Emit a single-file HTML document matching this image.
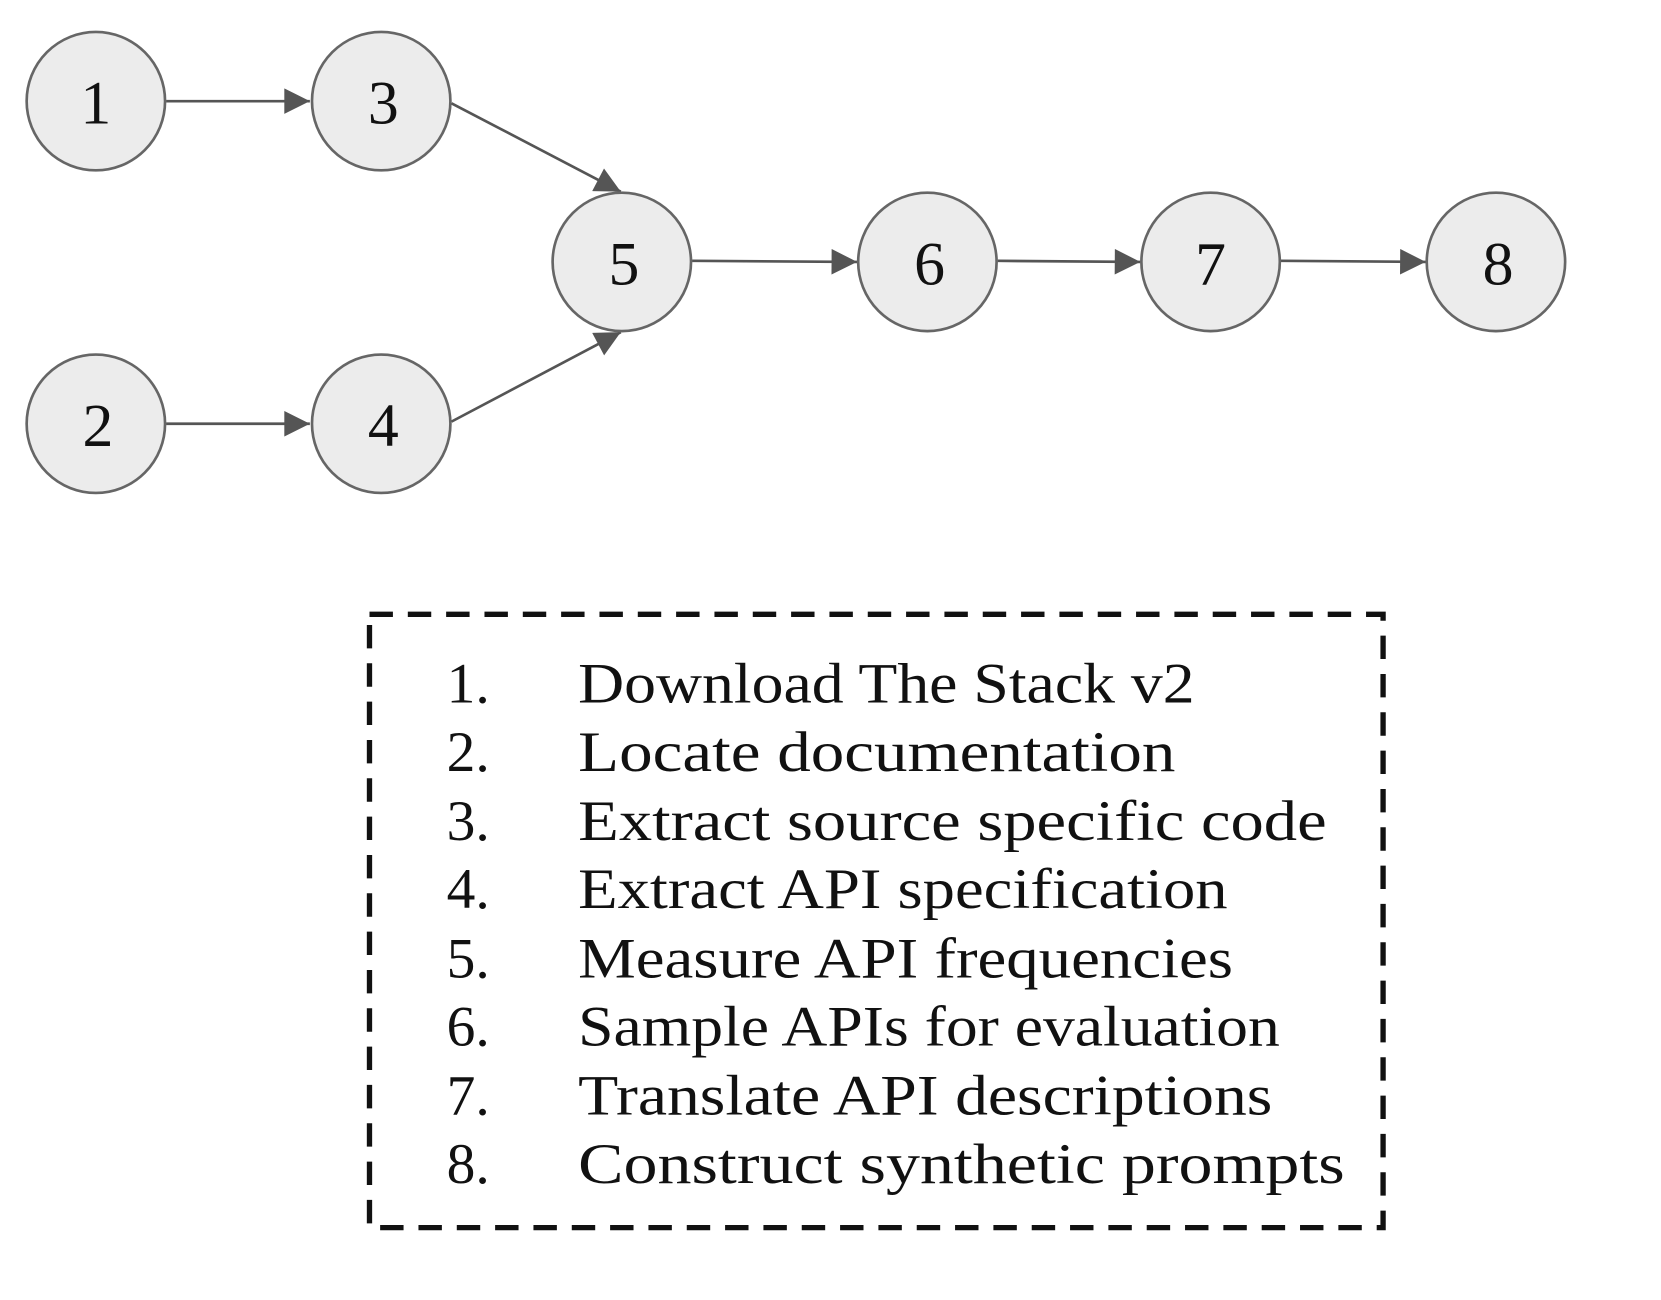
<!DOCTYPE html>
<html><head><meta charset="utf-8"><style>
html,body{margin:0;padding:0;background:#fff;}
svg{display:block;}
text{font-family:"Liberation Serif",serif;fill:#111;}
</style></head><body>
<svg width="1661" height="1300" viewBox="0 0 1560 1221">
<defs>
<marker id="a" viewBox="0 0 10 10" refX="10" refY="5" markerWidth="30" markerHeight="24" markerUnits="userSpaceOnUse" orient="auto"><path d="M0,0 L10,5 L0,10 z" fill="#555"/></marker></defs>
<g stroke="#555" stroke-width="2.5" fill="none">
<line x1="156" y1="95" x2="291" y2="95" marker-end="url(#a)"/>
<line x1="156" y1="398" x2="291" y2="398" marker-end="url(#a)"/>
<line x1="424" y1="97" x2="583" y2="180" marker-end="url(#a)"/>
<line x1="424" y1="396" x2="583" y2="312" marker-end="url(#a)"/>
<line x1="650" y1="245" x2="805" y2="246" marker-end="url(#a)"/>
<line x1="937" y1="245" x2="1071" y2="246" marker-end="url(#a)"/>
<line x1="1203" y1="245" x2="1339" y2="246" marker-end="url(#a)"/>
</g>
<g stroke="#666" stroke-width="2.5" fill="#ececec">
<circle cx="90" cy="95" r="65"/>
<circle cx="358" cy="95" r="65"/>
<circle cx="90" cy="398" r="65"/>
<circle cx="358" cy="398" r="65"/>
<circle cx="584" cy="246" r="65"/>
<circle cx="871" cy="246" r="65"/>
<circle cx="1137" cy="246" r="65"/>
<circle cx="1405" cy="246" r="65"/>
</g>
<g font-size="58" text-anchor="middle">
<text x="90" y="116">1</text>
<text x="360" y="116">3</text>
<text x="92" y="419">2</text>
<text x="360" y="419">4</text>
<text x="586" y="267">5</text>
<text x="873" y="267">6</text>
<text x="1137" y="267">7</text>
<text x="1407" y="267">8</text>
</g>
<rect x="347" y="577" width="952" height="576" fill="none" stroke="#111" stroke-width="5" stroke-dasharray="22,14"/>
<g font-size="54">
<g text-anchor="end">
<text x="460" y="660">1.</text><text x="460" y="724">2.</text><text x="460" y="789">3.</text><text x="460" y="853">4.</text><text x="460" y="918">5.</text><text x="460" y="982">6.</text><text x="460" y="1047">7.</text><text x="460" y="1111">8.</text>
</g>
<text x="543" y="660" textLength="579" lengthAdjust="spacingAndGlyphs">Download The Stack v2</text>
<text x="543" y="724" textLength="561" lengthAdjust="spacingAndGlyphs">Locate documentation</text>
<text x="543" y="789" textLength="703" lengthAdjust="spacingAndGlyphs">Extract source specific code</text>
<text x="543" y="853" textLength="610" lengthAdjust="spacingAndGlyphs">Extract API specification</text>
<text x="543" y="918" textLength="615" lengthAdjust="spacingAndGlyphs">Measure API frequencies</text>
<text x="543" y="982" textLength="659" lengthAdjust="spacingAndGlyphs">Sample APIs for evaluation</text>
<text x="543" y="1047" textLength="652" lengthAdjust="spacingAndGlyphs">Translate API descriptions</text>
<text x="543" y="1111" textLength="720" lengthAdjust="spacingAndGlyphs">Construct synthetic prompts</text>
</g>
</svg>
</body></html>
